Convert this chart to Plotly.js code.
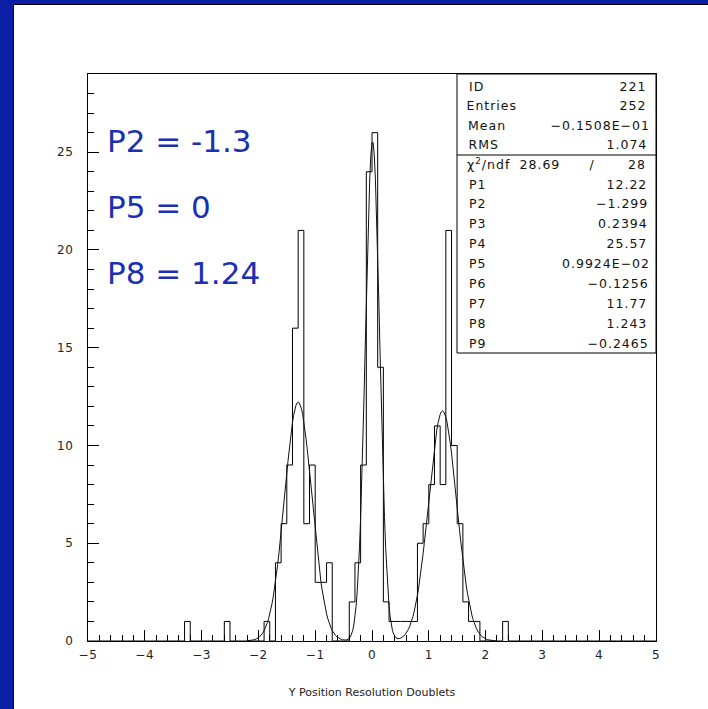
<!DOCTYPE html>
<html>
<head>
<meta charset="utf-8">
<script src="https://cdn.plot.ly/plotly-3.0.1.min.js"></script>
<style>
  html, body { margin: 0; padding: 0; width: 708px; height: 709px; overflow: hidden; background: #0a1ea6; }
  #sheet { position: absolute; left: 13px; top: 4px; right: 0; bottom: 0; background: #ffffff;
           border-left: 1px solid #000; border-top: 1px solid #000; }
  #chart { position: absolute; left: 0; top: 0; width: 708px; height: 709px; }
  /* stats-box texts (all annotations except the three blue notes) are letter-spaced like the original */
  #chart .annotation:not([data-index="0"]):not([data-index="1"]):not([data-index="2"]) .annotation-text { letter-spacing: 1.0px; }
  #chart .xtick text, #chart .ytick text { letter-spacing: 0.6px; }
</style>
</head>
<body>
<div id="sheet"></div>
<div id="chart"></div>
<script>
// ---- Histogram data (ID 221), 100 bins of width 0.1 from -5 to 5 ----
const binStart = -5;
const binWidth = 0.1;
const counts = [
  0,0,0,0,0,0,0,0,0,0,      // -5.0 .. -4.1
  0,0,0,0,0,0,0,1,0,0,      // -4.0 .. -3.1
  0,0,0,0,1,0,0,0,0,0,      // -3.0 .. -2.1
  0,1,0,4,6,9,16,21,6,9,    // -2.0 .. -1.1
  3,3,4,0,0,0,2,4,9,24,     // -1.0 .. -0.1
  26,14,2,1,1,1,1,1,5,6,    //  0.0 ..  0.9
  8,11,8,21,10,6,2,1,1,0,   //  1.0 ..  1.9
  0,0,0,1,0,0,0,0,0,0,      //  2.0 ..  2.9
  0,0,0,0,0,0,0,0,0,0,      //  3.0 ..  3.9
  0,0,0,0,0,0,0,0,0,0       //  4.0 ..  4.9
];

// ---- Fit: sum of three gaussians, parameters from the stats box ----
const fitParams = [12.22, -1.299, 0.2394, 25.57, 0.009924, -0.1256, 11.77, 1.243, -0.2465];
const fitRange = [-2.2, 2.2];

// ---- Stats box texts ----
const statLabels = ['ID', 'Entries', 'Mean', 'RMS'];
const statValues = ['221', '252', '\u22120.1508E\u221201', '1.074'];
const chi2Value = '28.69';
const ndfValue = '28';
const parLabels = ['P1','P2','P3','P4','P5','P6','P7','P8','P9'];
const parValues = ['12.22','\u22121.299','0.2394','25.57','0.9924E\u221202','\u22120.1256','11.77','1.243','\u22120.2465'];

// ---- Blue notes ----
const notes = ['P2 = -1.3', 'P5 = 0', 'P8 = 1.24'];

// ---- Build step outline ----
const hx = [], hy = [];
for (let i = 0; i < counts.length; i++) { hx.push(binStart + i * binWidth); hy.push(counts[i]); }
hx.push(binStart + counts.length * binWidth); hy.push(counts[counts.length - 1]);

// fit curve evaluated from the fitted parameters
function fitFunc(x) {
  let s = 0;
  for (let k = 0; k < 3; k++) {
    const a = fitParams[3*k], m = fitParams[3*k+1], sg = fitParams[3*k+2];
    s += a * Math.exp(-0.5 * Math.pow((x - m) / sg, 2));
  }
  return s;
}
const fx = [], fy = [];
const nFit = 220;
for (let i = 0; i <= nFit; i++) {
  const x = fitRange[0] + (fitRange[1] - fitRange[0]) * i / nFit;
  fx.push(x); fy.push(fitFunc(x));
}

// ---- pixel -> paper helpers (plot area 88..656 x 74..641) ----
const L = 88, R = 656, T = 74, B = 641;
const px = x => (x - L) / (R - L);
const py = y => (B - y) / (B - T);

const statFont = { family: 'DejaVu Sans, Liberation Sans, sans-serif', size: 12.5, color: '#111' };
const annotations = [];
const shapes = [];

// blue notes (first, indices 0..2)
const noteY = [141, 207, 273];
notes.forEach((t, i) => {
  annotations.push({ xref: 'paper', yref: 'paper', x: px(105), y: py(noteY[i]), text: t,
                     showarrow: false, xanchor: 'left', yanchor: 'middle',
                     font: { family: 'DejaVu Sans, sans-serif', size: 31, color: '#1a30b4' } });
});

// stats box
const boxL = 457, boxB = 353, divY = 155;
shapes.push({ type: 'rect', xref: 'paper', yref: 'paper', x0: px(boxL), x1: 1, y0: py(boxB), y1: 1,
              line: { color: '#000', width: 1 }, fillcolor: '#ffffff', layer: 'above' });
shapes.push({ type: 'line', xref: 'paper', yref: 'paper', x0: px(boxL), x1: 1, y0: py(divY), y1: py(divY),
              line: { color: '#000', width: 1 }, layer: 'above' });

const labX = 468, valX = 647;
const statRowsY = [86, 105.5, 125, 144.5];
statLabels.forEach((t, i) => {
  annotations.push({ xref: 'paper', yref: 'paper', x: px(labX), y: py(statRowsY[i]), text: t,
                     showarrow: false, xanchor: 'left', yanchor: 'middle', font: statFont });
  annotations.push({ xref: 'paper', yref: 'paper', x: px(valX), y: py(statRowsY[i]), text: statValues[i],
                     showarrow: false, xanchor: 'right', yanchor: 'middle', font: statFont });
});
const chiY = 164;
annotations.push({ xref: 'paper', yref: 'paper', x: px(labX), y: py(chiY), text: '\u03c7<sup>2</sup>/ndf',
                   showarrow: false, xanchor: 'left', yanchor: 'middle', font: statFont });
annotations.push({ xref: 'paper', yref: 'paper', x: px(560), y: py(chiY), text: chi2Value,
                   showarrow: false, xanchor: 'right', yanchor: 'middle', font: statFont });
annotations.push({ xref: 'paper', yref: 'paper', x: px(592), y: py(chiY), text: '/',
                   showarrow: false, xanchor: 'center', yanchor: 'middle', font: statFont });
annotations.push({ xref: 'paper', yref: 'paper', x: px(valX), y: py(chiY), text: ndfValue,
                   showarrow: false, xanchor: 'right', yanchor: 'middle', font: statFont });
parLabels.forEach((t, i) => {
  const yy = 184 + i * 19.9;
  annotations.push({ xref: 'paper', yref: 'paper', x: px(labX), y: py(yy), text: t,
                     showarrow: false, xanchor: 'left', yanchor: 'middle', font: statFont });
  annotations.push({ xref: 'paper', yref: 'paper', x: px(valX), y: py(yy), text: parValues[i],
                     showarrow: false, xanchor: 'right', yanchor: 'middle', font: statFont });
});

const axisFont = { family: 'DejaVu Sans, Liberation Sans, sans-serif', size: 12, color: '#222' };

const data = [
  { type: 'scatter', mode: 'lines', x: hx, y: hy, line: { shape: 'hv', color: '#000', width: 1 },
    hoverinfo: 'skip', showlegend: false },
  { type: 'scatter', mode: 'lines', x: fx, y: fy, line: { color: '#111', width: 1 },
    hoverinfo: 'skip', showlegend: false }
];

const layout = {
  width: 708, height: 709,
  margin: { l: L, r: 708 - R, t: T, b: 709 - B, pad: 0 },
  paper_bgcolor: 'rgba(0,0,0,0)',
  plot_bgcolor: '#ffffff',
  showlegend: false,
  xaxis: {
    range: [-5, 5], tick0: 0, dtick: 1, ticks: 'inside', ticklen: 11, tickwidth: 1, tickcolor: '#000',
    minor: { dtick: 0.2, ticks: 'inside', ticklen: 6, tickwidth: 1, tickcolor: '#000' },
    showline: true, linecolor: '#000', linewidth: 1, mirror: true,
    showgrid: false, zeroline: false, tickfont: axisFont, ticklabelstandoff: 3,
    title: { text: 'Y Position Resolution Doublets', font: { family: 'DejaVu Sans, Liberation Sans, sans-serif', size: 11, color: '#222' }, standoff: 26 },
    fixedrange: true
  },
  yaxis: {
    range: [0, 29], tick0: 0, dtick: 5, ticks: 'inside', ticklen: 11, tickwidth: 1, tickcolor: '#000',
    minor: { dtick: 1, ticks: 'inside', ticklen: 6, tickwidth: 1, tickcolor: '#000' },
    showline: true, linecolor: '#000', linewidth: 1, mirror: true,
    showgrid: false, zeroline: false, tickfont: axisFont, ticklabelstandoff: 11,
    fixedrange: true
  },
  shapes: shapes,
  annotations: annotations
};

Plotly.newPlot('chart', data, layout, { staticPlot: true, displayModeBar: false });
</script>
</body>
</html>
